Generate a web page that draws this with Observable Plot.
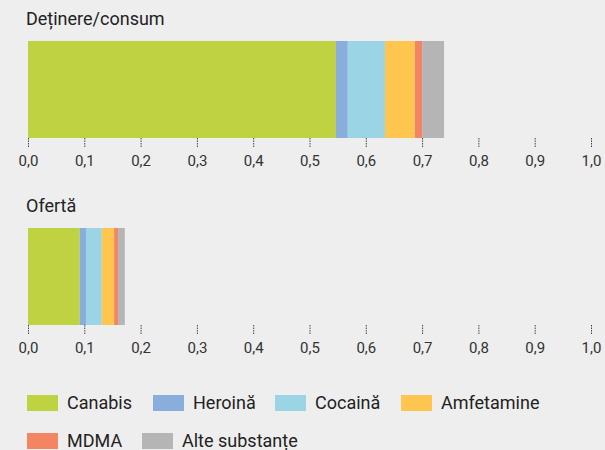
<!DOCTYPE html>
<html>
<head>
<meta charset="utf-8">
<script src="https://cdn.jsdelivr.net/npm/d3@7"></script>
<script src="https://cdn.jsdelivr.net/npm/@observablehq/plot@0.6"></script>
<style>
  html, body { margin: 0; padding: 0; background: #eeeeee; width: 605px; height: 450px; overflow: hidden; font-family: Roboto, "Liberation Sans", sans-serif; color: #222; }
  .title { position: absolute; left: 26px; font-size: 18px; line-height: 21px; color: #222; }
  .chart { position: absolute; left: 0; }
  .item { position: absolute; display: flex; align-items: center; white-space: nowrap; font-size: 18px; line-height: 21px; color: #222; }
  .sw { width: 31px; height: 16px; margin-right: 9px; }
</style>
</head>
<body>
<div class="title" style="top:8px">Deținere/consum</div>
<div class="chart" id="c1" style="top:41px"></div>
<div class="title" style="top:195px">Ofertă</div>
<div class="chart" id="c2" style="top:228px"></div>
<div id="legend"></div>
<script>
const categories = ["Canabis", "Heroină", "Cocaină", "Amfetamine", "MDMA", "Alte substanțe"];
const colors = ["#bfd242", "#8aaedc", "#9bd5e5", "#fec64f", "#f38563", "#b5b5b5"];
const possessionValues = [0.547, 0.021, 0.066, 0.053, 0.013, 0.039];
const supplyValues = [0.092, 0.011, 0.028, 0.022, 0.007, 0.012];
const xTicks = [0, 0.1, 0.2, 0.3, 0.4, 0.5, 0.6, 0.7, 0.8, 0.9, 1.0];

function makeChart(values) {
  const data = categories.map((c, i) => ({cat: c, value: values[i]}));
  return Plot.plot({
    width: 605,
    height: 137,
    marginLeft: 28,
    marginRight: 14,
    marginTop: 0,
    marginBottom: 40,
    style: {background: "transparent", fontFamily: "Roboto, 'Liberation Sans', sans-serif", fontSize: "15px", color: "#333"},
    x: {domain: [0, 1]},
    color: {domain: categories, range: colors},
    marks: [
      Plot.barX(data, {x: "value", fill: "cat", order: null}),
      Plot.axisX({ticks: xTicks, tickSize: 9, tickPadding: 8, tickFormat: d => d.toFixed(1).replace(".", ","), stroke: "#444", strokeDasharray: "1.5,1", label: null, fill: "#333"})
    ]
  });
}
document.getElementById("c1").appendChild(makeChart(possessionValues));
document.getElementById("c2").appendChild(makeChart(supplyValues));

const legendPos = [[27, 392], [153, 392], [275, 392], [401, 392], [27, 430], [142, 430]];
const legend = document.getElementById("legend");
categories.forEach((c, i) => {
  const it = document.createElement("div");
  it.className = "item";
  it.style.left = legendPos[i][0] + "px";
  it.style.top = legendPos[i][1] + "px";
  it.innerHTML = `<span class="sw" style="background:${colors[i]}"></span><span>${c}</span>`;
  legend.appendChild(it);
});
</script>
</body>
</html>
